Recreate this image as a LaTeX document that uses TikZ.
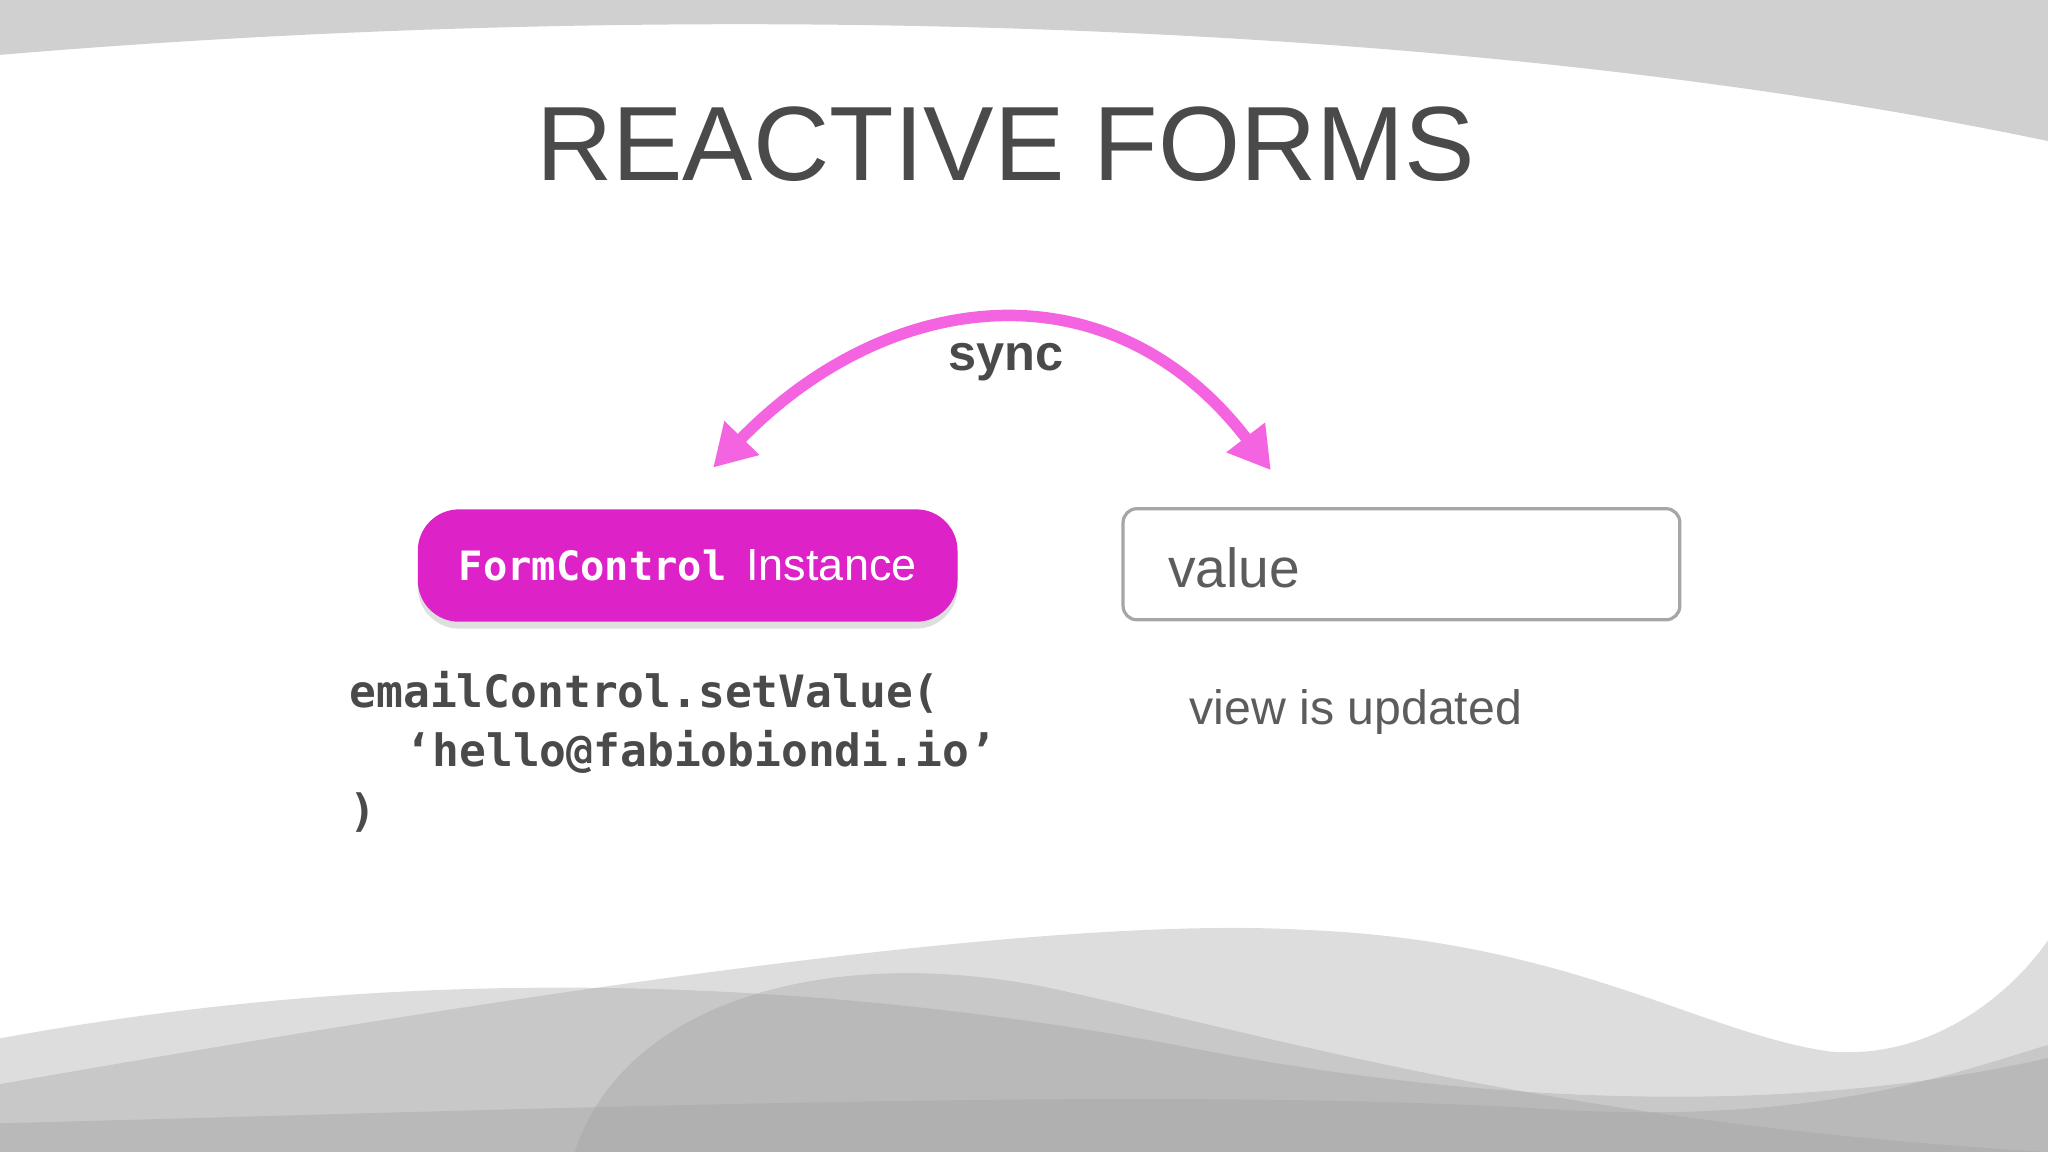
\documentclass[tikz,border=0pt]{standalone}
\usepackage{fontspec}
\setmainfont{Liberation Sans}
\newfontfamily\codefont{DejaVu Sans Mono}
\usetikzlibrary{arrows.meta,shadows}
\definecolor{pinkline}{HTML}{F564E0}
\definecolor{magbox}{HTML}{DD22C8}
\definecolor{darktext}{HTML}{4A4A4A}
\definecolor{bandgrey}{HTML}{D0D0D0}
\tikzset{
  wave/.style={fill=gray!75, fill opacity=0.35, draw=none},
  codeline/.style={anchor=west, inner sep=0pt, text=darktext, font=\codefont\bfseries\fontsize{9.7}{12}\selectfont},
}
\begin{document}
\begin{tikzpicture}[x=0.01cm,y=-0.01cm]
\useasboundingbox (0,0) rectangle (1568,882);
% top band
\fill[bandgrey] (0,0) -- (0,42) .. controls (500,0) and (1100,10) .. (1568,108) -- (1568,0) -- cycle;
% bottom waves
\fill[wave] (0,795) .. controls (300,740) and (600,745) .. (900,800) .. controls (1100,840) and (1350,860) .. (1568,810) -- (1568,882) -- (0,882) -- cycle;
\fill[wave] (440,882) .. controls (480,760) and (650,720) .. (820,760) .. controls (1000,800) and (1200,860) .. (1568,882) -- cycle;
\fill[wave] (0,830) .. controls (400,760) and (800,700) .. (1000,712) .. controls (1200,720) and (1300,790) .. (1400,805) .. controls (1480,812) and (1540,760) .. (1568,720) -- (1568,882) -- (0,882) -- cycle;
\fill[wave] (0,860) .. controls (400,850) and (900,830) .. (1200,850) .. controls (1400,860) and (1500,820) .. (1568,800) -- (1568,882) -- (0,882) -- cycle;
% title
\node[text=darktext, font=\fontsize{23}{28}\selectfont] (title) at (770,110) {REACTIVE FORMS};
% boxes
\node[draw=none, fill=magbox, rounded corners=9pt, minimum width=4.13cm, minimum height=0.86cm, drop shadow={opacity=0.25, shadow xshift=0pt, shadow yshift=-1.5pt}, text=white, font=\fontsize{9.8}{12}\selectfont] (fc) at (526.5,433) {{\codefont\bfseries\fontsize{8.8}{12}\selectfont FormControl}\, Instance};
\node[draw=gray!70, line width=0.7pt, fill=white, rounded corners=3pt, minimum width=4.26cm, minimum height=0.85cm] (val) at (1073,432) {};
\node[anchor=west, text=darktext!90, font=\fontsize{12}{14}\selectfont] (valtxt) at (882,435) {value};
% arc
\coordinate (aL) at (546,358);
\coordinate (aR) at (973,360);
\draw[pinkline, line width=2.5pt, {Triangle[length=9pt,width=10pt]}-{Triangle[length=9pt,width=10pt]}] (aL) .. controls (680,220) and (850,200) .. (aR);
\node[text=darktext, font=\bfseries\fontsize{11}{14}\selectfont] (sync) at (770,277) {sync};
% texts
\node[text=darktext!90, font=\fontsize{10.5}{14}\selectfont] (view) at (1038,545) {view is updated};
\node[codeline] (c1) at (267,530) {emailControl.setValue(};
\node[codeline] (c2) at (310,576) {‘hello@fabiobiondi.io’};
\node[codeline] (c3) at (267,622) {)};
\end{tikzpicture}
\end{document}
